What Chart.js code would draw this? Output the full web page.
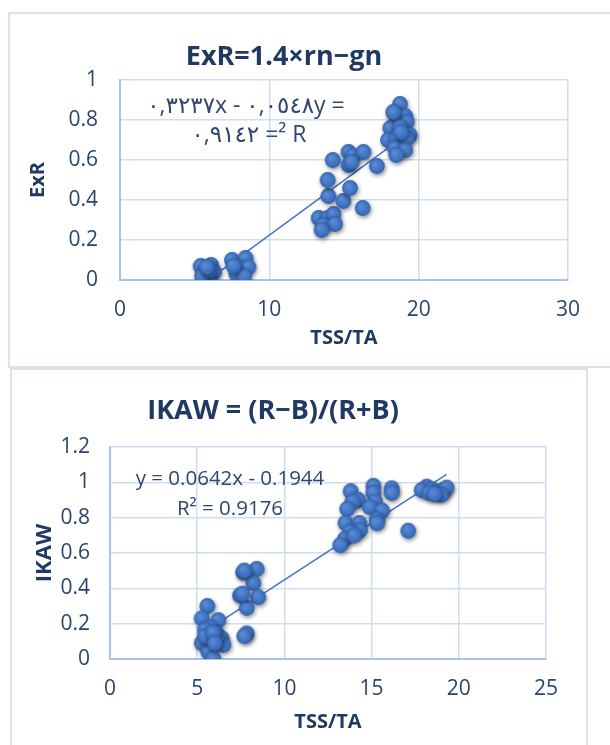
<!DOCTYPE html>
<html>
<head>
<meta charset="utf-8">
<script src="https://cdn.jsdelivr.net/npm/chart.js@4.4.0/dist/chart.umd.min.js"></script>
<style>
  body { margin: 0; background: #fff; width: 610px; height: 745px; overflow: hidden; position: relative; }
  .panel { position: absolute; border: 2px solid #dde2ea; box-sizing: border-box; }
  canvas { position: absolute; left: 0; }
</style>
</head>
<body>
<div class="panel" style="left:8px; top:12px; width:620px; height:356px;"></div>
<div class="panel" style="left:10px; top:368px; width:578px; height:400px;"></div>
<canvas id="chartExR" width="610" height="366" style="top:0"></canvas>
<canvas id="chartIKAW" width="610" height="378" style="top:367px"></canvas>
<script>
// ---- data ----
const exrX = [5.4, 6.1, 5.6, 6.3, 5.9, 5.5, 6.0, 5.8,
  7.5, 8.4, 8.0, 8.6, 7.8, 8.3, 7.6,
  13.3, 13.9, 14.3, 13.6, 14.4, 13.5,
  13.95, 13.9, 14.95, 15.4, 16.25, 14.25, 15.3, 15.6, 16.3, 15.3, 15.5, 17.2,
  18.75, 18.4, 19.1, 19.2, 18.1, 18.75, 19.4, 17.95, 18.5, 19.2, 18.4, 19.1, 18.5, 18.3, 18.8]
const exrY = [0.07, 0.075, 0.03, 0.04, 0.01, 0.02, 0.05, 0.065,
  0.10, 0.11, 0.06, 0.065, 0.03, 0.02, 0.07,
  0.31, 0.31, 0.33, 0.275, 0.28, 0.25,
  0.42, 0.50, 0.395, 0.46, 0.36, 0.60, 0.64, 0.62, 0.64, 0.575, 0.59, 0.57,
  0.88, 0.83, 0.82, 0.79, 0.76, 0.77, 0.725, 0.70, 0.71, 0.71, 0.66, 0.65, 0.625, 0.84, 0.74]

const ikawX = [5.58, 5.26, 6.21, 5.73, 5.45, 6.12, 6.4, 5.26, 5.7, 6.5, 5.64, 5.92, 6.1, 5.45, 5.9, 6.0,
  7.64, 8.41, 8.22, 7.45, 8.5, 7.84, 7.84, 7.7, 7.6, 7.7,
  13.8, 15.1, 16.15, 16.15, 15.1, 14.24, 13.9, 15.2, 13.6, 14.9, 15.6, 15.3, 13.5, 14.3, 14.33, 13.76, 13.47, 13.2, 17.1, 14.0, 15.3,
  18.16, 17.87, 18.45, 18.73, 19.1, 19.3, 19.0, 18.3, 18.6]
const ikawY = [0.30, 0.23, 0.22, 0.18, 0.165, 0.145, 0.117, 0.09, 0.07, 0.08, 0.04, 0.005, 0.12, 0.13, 0.15, 0.09,
  0.49, 0.51, 0.43, 0.36, 0.35, 0.29, 0.145, 0.13, 0.37, 0.50,
  0.95, 0.98, 0.966, 0.94, 0.94, 0.90, 0.89, 0.89, 0.85, 0.86, 0.84, 0.79, 0.77, 0.77, 0.73, 0.72, 0.68, 0.645, 0.726, 0.70, 0.77,
  0.975, 0.956, 0.96, 0.947, 0.956, 0.97, 0.93, 0.94, 0.935]

// trendline coefficients as printed on the charts
const exrFit = { slope: 0.0548, intercept: -0.3237 }
const ikawFit = { slope: 0.0642, intercept: -0.1944 }

const exrLabel = ['٠,٣٢٣٧x - ٠,٠٥٤٨y =', '٠,٩١٤٢ =² R']
const ikawLabel = ['y = 0.0642x - 0.1944', 'R² = 0.9176']

const titleColor = '#1f3864'
const tickColor = '#2a456e'
const gridColor = '#cfddf0'
const axisColor = '#a9c3e8'
const dotColor = '#4472c4'

// round marker with a bit of shading, like the office bubble look
function makeDot() {
  const c = document.createElement('canvas')
  c.width = 18; c.height = 18
  const g = c.getContext('2d')
  const grad = g.createRadialGradient(7, 6.5, 1, 9, 9, 8)
  grad.addColorStop(0, '#5a8ad3')
  grad.addColorStop(0.75, '#3c70bf')
  grad.addColorStop(1, '#2f5ea8')
  g.beginPath()
  g.arc(9, 9, 7.9, 0, Math.PI * 2)
  g.fillStyle = grad
  g.fill()
  return c
}
const dot = makeDot()

const shadowPlugin = {
  id: 'dotShadow',
  beforeDatasetDraw(chart, args) {
    if (args.index !== 0) return
    const ctx = chart.ctx
    ctx.save()
    ctx.shadowColor = 'rgba(0,0,0,0.45)'
    ctx.shadowBlur = 4
    ctx.shadowOffsetX = 1
    ctx.shadowOffsetY = 2
  },
  afterDatasetDraw(chart, args) {
    if (args.index !== 0) return
    chart.ctx.restore()
  }
}

const eqPlugin = {
  id: 'equation',
  afterDatasetsDraw(chart, args, opts) {
    const ctx = chart.ctx
    const a = chart.chartArea
    ctx.save()
    ctx.font = opts.font
    ctx.fillStyle = '#2e4670'
    ctx.textAlign = 'center'
    ctx.textBaseline = 'middle'
    opts.lines.forEach((t, i) => {
      ctx.fillText(t, a.left + opts.dx[i], a.top + opts.dy[i])
    })
    ctx.restore()
  }
}

function trend(xs, fit) {
  const lo = Math.min(...xs), hi = Math.max(...xs)
  return [lo, hi].map(x => ({ x: x, y: fit.slope * x + fit.intercept }))
}

const fmt = v => String(Number(v.toFixed(1)))

function makeChart(id, xs, ys, fit, cfg) {
  const pts = xs.map((x, i) => ({ x: x, y: ys[i] }))
  return new Chart(document.getElementById(id), {
    type: 'scatter',
    data: {
      datasets: [
        { data: pts, pointStyle: dot, pointRadius: 8, pointHoverRadius: 8 },
        { type: 'line', data: trend(xs, fit), borderColor: dotColor, borderWidth: 1.5,
          pointRadius: 0, fill: false, showLine: true }
      ]
    },
    options: {
      responsive: false,
      animation: false,
      devicePixelRatio: 1,
      layout: { padding: { left: 0, right: cfg.right, top: 0, bottom: 0 } },
      plugins: {
        legend: { display: false },
        tooltip: { enabled: false },
        title: {
          display: true, text: cfg.title, color: titleColor,
          font: { family: 'Open Sans', size: 27, weight: 'bold', lineHeight: 1.2 },
          padding: { top: cfg.titleTop, bottom: cfg.titleBottom }
        },
        equation: { lines: cfg.eq, font: cfg.eqFont, dx: cfg.eqDx, dy: cfg.eqDy }
      },
      scales: {
        x: {
          type: 'linear', min: 0, max: cfg.xMax,
          ticks: { stepSize: cfg.xStep, color: tickColor, padding: 17,
            font: { family: 'Open Sans', size: 21 }, callback: fmt },
          grid: { color: gridColor, lineWidth: 1.5, drawTicks: false },
          border: { color: axisColor, width: 2 },
          title: { display: true, text: 'TSS/TA', color: titleColor,
            font: { family: 'Open Sans', size: 20, weight: 'bold', lineHeight: 1.2 },
            padding: { top: 0, bottom: cfg.xTitleBottom } },
          afterFit(s) { s.height = cfg.xHeight }
        },
        y: {
          min: 0, max: cfg.yMax,
          ticks: { stepSize: cfg.yStep, color: tickColor, padding: cfg.yPad,
            font: { family: 'Open Sans', size: 21 }, callback: fmt },
          grid: { color: gridColor, lineWidth: 1.5, drawTicks: false },
          border: { color: axisColor, width: 2 },
          title: { display: true, text: cfg.yTitle, color: titleColor,
            font: { family: 'Open Sans', size: cfg.yTitleSize, weight: 'bold', lineHeight: 1.2 },
            padding: { top: cfg.yTitleLeft, bottom: 0 } },
          afterFit(s) { s.width = cfg.left }
        }
      }
    },
    plugins: [shadowPlugin, eqPlugin]
  })
}

makeChart('chartExR', exrX, exrY, exrFit, {
  title: 'ExR=1.4×rn−gn', titleTop: 41, titleBottom: 6.6,
  left: 120, right: 42, xHeight: 86, xTitleBottom: 16,
  xMax: 30, xStep: 10, yMax: 1, yStep: 0.2, yPad: 22,
  yTitle: 'ExR', yTitleLeft: 26, yTitleSize: 20,
  eq: exrLabel, eqFont: '23px "Open Sans", "DejaVu Sans", sans-serif',
  eqDx: [126, 129], eqDy: [26, 55]
})

makeChart('chartIKAW', ikawX, ikawY, ikawFit, {
  title: 'IKAW = (R−B)/(R+B)', titleTop: 28, titleBottom: 19.6,
  left: 110, right: 64, xHeight: 86, xTitleBottom: 11,
  xMax: 25, xStep: 5, yMax: 1.2, yStep: 0.2, yPad: 20,
  yTitle: 'IKAW', yTitleLeft: 32, yTitleSize: 22,
  eq: ikawLabel, eqFont: '20.5px "Open Sans", sans-serif',
  eqDx: [120, 120], eqDy: [32, 62]
})
</script>
</body>
</html>
